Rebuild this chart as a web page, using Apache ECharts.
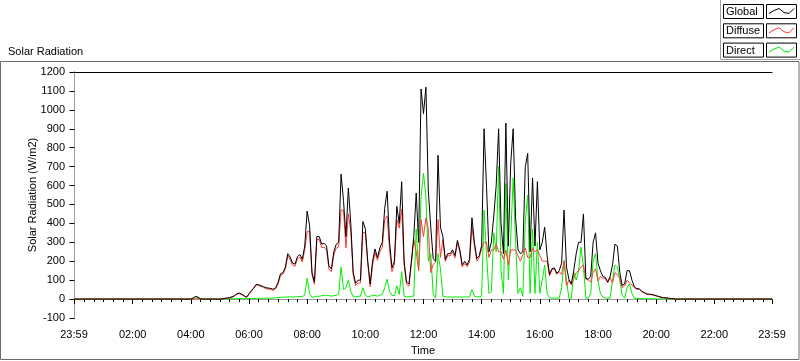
<!DOCTYPE html>
<html>
<head>
<meta charset="utf-8">
<script src="https://cdn.jsdelivr.net/npm/echarts@6/dist/echarts.min.js"></script>
<style>
html,body{margin:0;padding:0;background:#fff;}
#chart{width:800px;height:361px;}
</style>
</head>
<body>
<div id="chart"></div>
<script>
// ---- data (minutes after midnight, 5-minute samples from 04:00 to 21:00) ----
const sampleStartMinute = 240;
const sampleStepMinutes = 5;
const dayStartMinute = -1;     // 23:59 previous day
const dayEndMinute = 1439;     // 23:59
const nightValue = 0;

const seriesNames = ["Global", "Diffuse", "Direct"];

const globalValues = [
  0,6,14,10,2,0,0,0,0,0,0,0,
  0,1,4,6,8,12,18,28,32,26,18,10,
  28,45,60,78,76,70,66,60,58,56,52,60,
  88,134,140,168,240,222,190,185,225,236,210,280,
  465,390,140,90,330,330,290,295,280,175,160,250,
  290,300,660,520,330,587,400,140,84,100,100,410,
  372,200,80,200,265,220,270,300,480,570,300,165,
  200,490,400,620,200,90,80,200,330,560,300,1110,
  980,1120,570,380,214,200,760,380,330,210,240,240,
  260,230,310,260,180,200,180,210,430,300,214,230,
  283,900,600,250,300,440,600,900,400,240,930,280,
  720,900,430,260,240,250,700,770,250,640,280,620,
  260,300,380,230,130,160,165,136,150,190,470,170,
  105,80,150,240,300,300,450,110,105,120,300,350,
  190,150,120,115,90,120,180,290,280,140,72,80,
  150,150,100,65,55,55,42,35,28,26,25,22,
  18,14,10,8,7,5,3,2,0,0,0,0,
  0
];

const diffuseValues = [
  0,1,2,2,1,0,0,0,0,0,0,0,
  0,0,3,4,6,10,16,26,29,23,16,8,
  25,42,57,74,72,66,62,55,53,51,46,54,
  80,124,130,158,228,210,180,173,213,222,196,260,
  355,360,130,78,315,315,272,275,260,157,145,232,
  270,275,470,470,270,450,360,128,72,85,85,350,
  352,188,65,180,245,205,250,275,420,440,260,145,
  182,420,375,475,185,78,68,185,315,250,150,420,
  330,430,370,140,184,195,420,220,315,198,230,228,
  250,218,300,248,170,188,170,198,380,285,202,218,
  268,300,300,220,260,260,290,250,250,210,260,180,
  260,260,260,230,200,235,270,220,220,270,250,260,
  230,200,200,200,122,155,160,131,145,130,200,70,
  100,75,110,140,150,170,180,105,100,90,140,160,
  95,120,110,110,85,115,85,140,130,110,60,70,
  100,85,75,60,52,52,39,33,26,24,23,20,
  16,13,9,7,6,4,3,2,0,0,0,0,
  0
];

const directValues = [
  0,5,12,8,1,0,0,0,0,0,0,0,
  0,1,1,2,2,2,2,2,3,3,2,2,
  3,3,3,4,4,4,4,5,5,5,6,6,
  8,10,10,10,12,12,10,12,12,14,14,20,
  110,30,10,12,15,15,18,20,20,18,15,18,
  20,25,170,50,60,100,40,12,12,15,15,60,
  20,12,15,20,20,15,20,25,60,105,40,20,
  18,70,25,145,15,12,12,15,15,370,150,540,
  665,540,200,240,30,5,240,160,15,12,10,12,
  10,12,10,12,10,12,10,12,50,15,12,12,
  15,470,240,30,40,350,250,700,150,30,610,100,
  330,640,300,30,60,15,410,550,30,370,30,300,
  30,100,180,30,8,5,5,5,5,60,205,100,
  5,5,140,100,150,275,170,5,5,30,200,240,
  100,30,10,5,5,5,100,180,170,100,20,5,
  60,80,30,5,3,3,3,2,2,2,2,2,
  1,1,1,1,1,1,0,0,0,0,0,0,
  0
];

const xMajorTickMinutes = [-1,120,240,360,480,600,720,840,960,1080,1200,1320,1439];
const xMajorTickLabels = ["23:59","02:00","04:00","06:00","08:00","10:00","12:00","14:00","16:00","18:00","20:00","22:00","23:59"];
const xMinorTickStepMinutes = 20;
const yMin = -100, yMax = 1200, yInterval = 100;

// ---- build ----
function toPairs(values) {
  const pts = [[dayStartMinute, nightValue]];
  values.forEach((v, i) => pts.push([sampleStartMinute + i * sampleStepMinutes, v]));
  pts.push([dayEndMinute, nightValue]);
  return pts;
}
const minorTicks = [];
for (let m = xMinorTickStepMinutes; m < dayEndMinute; m += xMinorTickStepMinutes) {
  if (m % 120 !== 0) minorTicks.push(m);
}

const FONT = "Liberation Sans";
const colors = { Global: "#000000", Diffuse: "#ff3b3b", Direct: "#00ee00" };

const chart = echarts.init(document.getElementById("chart"), null, { renderer: "canvas" });

const legendRows = seriesNames.map((name, i) => {
  const y = 4.5 + i * 19.3;
  const zig = [[769, y + 9], [774, y + 6], [779, y + 4], [784, y + 8], [789, y + 9], [794, y + 4]];
  return [
    { type: "rect", shape: { x: 723.5, y: y, width: 40, height: 14 }, style: { fill: "#fff", stroke: "#000", lineWidth: 1 } },
    { type: "text", x: 726, y: y + 7.5, style: { text: name, font: "11px " + FONT, fill: "#000", verticalAlign: "middle", textAlign: "left" } },
    { type: "rect", shape: { x: 766.5, y: y, width: 30, height: 14 }, style: { fill: "#fff", stroke: "#000", lineWidth: 1 } },
    { type: "polyline", shape: { points: zig }, style: { stroke: colors[name], lineWidth: 1, fill: null } }
  ];
}).flat();

const option = {
  animation: false,
  backgroundColor: "#fff",
  textStyle: { fontFamily: FONT },
  title: {
    text: "Solar Radiation",
    left: 3, top: 41,
    textStyle: { fontSize: 11, fontWeight: "normal", color: "#000", fontFamily: FONT }
  },
  grid: { left: 74, right: 28, top: 72, bottom: 39, show: false, containLabel: false },
  xAxis: [
    {
      type: "value", min: dayStartMinute, max: dayEndMinute, position: "bottom",
      name: "Time", nameLocation: "middle", nameGap: 27, nameMoveOverlap: false,
      nameTextStyle: { fontSize: 11, color: "#000", fontFamily: FONT },
      axisLine: { show: true, lineStyle: { color: "#9a9a9a", width: 1 } },
      axisTick: { show: true, customValues: xMajorTickMinutes, length: 5, lineStyle: { color: "#000" } },
      axisLabel: {
        customValues: xMajorTickMinutes, fontSize: 11, color: "#000", margin: 11, fontFamily: FONT,
        showMinLabel: true, showMaxLabel: true, hideOverlap: false,
        formatter: (v) => xMajorTickLabels[xMajorTickMinutes.indexOf(v)]
      },
      splitLine: { show: false }
    },
    {
      type: "value", min: dayStartMinute, max: dayEndMinute, position: "bottom",
      axisLine: { show: false },
      axisTick: { show: true, customValues: minorTicks, length: 3, lineStyle: { color: "#000" } },
      axisLabel: { show: false },
      splitLine: { show: false }
    },
    {
      type: "value", min: dayStartMinute, max: dayEndMinute, position: "top",
      axisLine: { show: true, lineStyle: { color: "#000", width: 1 } },
      axisTick: { show: false }, axisLabel: { show: false }, splitLine: { show: false }
    }
  ],
  yAxis: [
    {
      type: "value", min: yMin, max: yMax, interval: yInterval, position: "left",
      name: "Solar Radiation (W/m2)", nameLocation: "middle", nameGap: 36, nameRotate: 90,
      nameMoveOverlap: false,
      nameTextStyle: { fontSize: 11, color: "#000", fontFamily: FONT },
      axisLine: { show: true, lineStyle: { color: "#000", width: 1 } },
      axisTick: { show: true, length: 5, lineStyle: { color: "#000" } },
      axisLabel: { fontSize: 11, color: "#000", margin: 9, fontFamily: FONT, formatter: (v) => String(v) },
      splitLine: { show: false }
    },
    {
      type: "value", min: yMin, max: yMax, interval: yInterval, position: "right",
      axisLine: { show: true, lineStyle: { color: "#9a9a9a", width: 1 } },
      axisTick: { show: false }, axisLabel: { show: false }, splitLine: { show: false }
    }
  ],
  series: [
    { name: "Direct", type: "line", data: toPairs(directValues), showSymbol: false, symbol: "none",
      lineStyle: { color: colors.Direct, width: 1 }, itemStyle: { color: colors.Direct }, z: 2 },
    { name: "Diffuse", type: "line", data: toPairs(diffuseValues), showSymbol: false, symbol: "none",
      lineStyle: { color: colors.Diffuse, width: 1 }, itemStyle: { color: colors.Diffuse }, z: 3 },
    { name: "Global", type: "line", data: toPairs(globalValues), showSymbol: false, symbol: "none",
      lineStyle: { color: colors.Global, width: 1 }, itemStyle: { color: colors.Global }, z: 4 }
  ],
  graphic: [
    { type: "rect", shape: { x: 0.5, y: 61.5, width: 798.5, height: 298 }, style: { fill: null, stroke: "#6a6a6a", lineWidth: 1 }, z: -1 },
    { type: "polyline", shape: { points: [[720.5, 0], [720.5, 59.5], [800, 59.5]] }, style: { stroke: "#a0a0a0", lineWidth: 1, fill: null } },
    ...legendRows
  ]
};
chart.setOption(option);
</script>
</body>
</html>
